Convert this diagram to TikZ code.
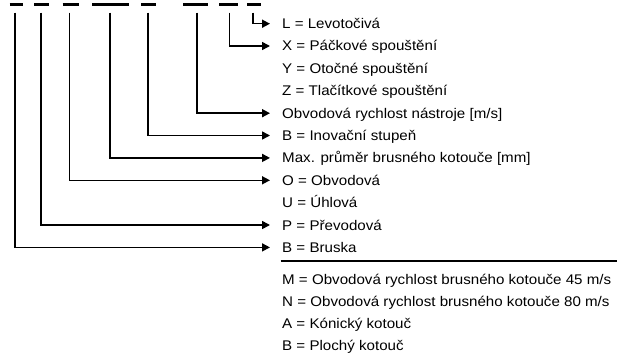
\documentclass[tikz,border=0pt]{standalone}
\usepackage{fontspec}
\setmainfont{Liberation Sans}[FakeStretch=1.08]
\usetikzlibrary{arrows.meta}
\begin{document}
\begin{tikzpicture}[x=1pt,y=-1pt,
  dashline/.style={line width=2.6pt},
  conn/.style={line width=1.6pt,-{Triangle[length=8pt,width=8pt]}},
  lbl/.style={anchor=west,inner xsep=12pt,inner ysep=0pt,text height=10pt,text depth=0pt,font=\fontsize{14}{16}\selectfont}]
\useasboundingbox (0,0) rectangle (617,353);
% dashes
\foreach \a/\b in {9.5/22.5,34/49,62.5/79,92/129,141/156,183/208,219/238,247/261}
  \draw[dashline] (\a,4.7) -- (\b,4.7);
% labels
\node[lbl] (t0) at (270,23.7) {L = Levotočivá};
\node[lbl] (t1) at (270,46.0) {X = Páčkové spouštění};
\node[lbl] (t2) at (270,68.4) {Y = Otočné spouštění};
\node[lbl] (t3) at (270,90.8) {Z = Tlačítkové spouštění};
\node[lbl] (t4) at (270,113.2) {Obvodová rychlost nástroje [m/s]};
\node[lbl] (t5) at (270,135.5) {B = Inovační stupeň};
\node[lbl] (t6) at (270,157.9) {Max. průměr brusného kotouče [mm]};
\node[lbl] (t7) at (270,180.3) {O = Obvodová};
\node[lbl] (t8) at (270,202.6) {U = Úhlová};
\node[lbl] (t9) at (270,225.0) {P = Převodová};
\node[lbl] (t10) at (270,247.4) {B = Bruska};
\node[lbl] (m1) at (270,279.3) {M = Obvodová rychlost brusného kotouče 45 m/s};
\node[lbl] (m2) at (270,301.5) {N = Obvodová rychlost brusného kotouče 80 m/s};
\node[lbl] (m3) at (270,323.6) {A = Kónický kotouč};
\node[lbl] (m4) at (270,345.7) {B = Plochý kotouč};
% vertical tops
\coordinate (v0) at (252.7,12.7);
\coordinate (v1) at (229.3,12.7);
\coordinate (v4) at (197,12.7);
\coordinate (v5) at (148,12.7);
\coordinate (v6) at (110,12.7);
\coordinate (v7) at (69.3,12.7);
\coordinate (v9) at (40.7,12.7);
\coordinate (v10) at (14.7,12.7);
\foreach \v/\t in {v0/t0,v1/t1,v4/t4,v5/t5,v6/t6,v7/t7,v9/t9,v10/t10}
  \draw[conn] (\v) |- (\t.west);
% separator line
\coordinate (s1) at (280.7,261);
\coordinate (s2) at (617,261);
\draw[line width=1.4pt] (s1) -- (s2);
\end{tikzpicture}
\end{document}
